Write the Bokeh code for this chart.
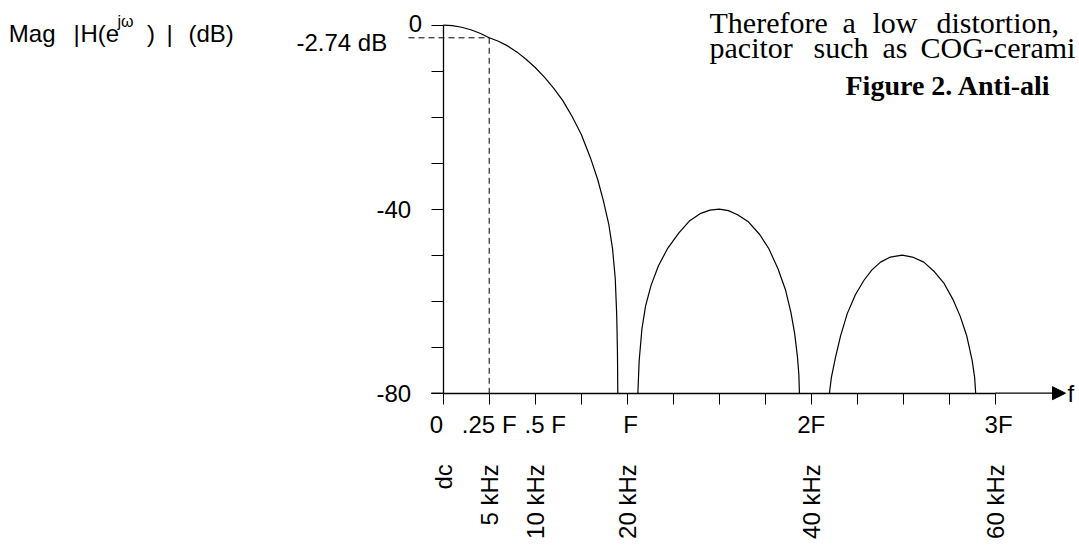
import math
from bokeh.plotting import figure
from bokeh.models import Label, Arrow, NormalHead, FixedTicker, LinearAxis
from bokeh.embed import file_html
from bokeh.resources import INLINE

# ---------------- data ----------------
lobe1_f = [0, 0.05, 0.10, 0.15, 0.20, 0.25, 0.30, 0.35, 0.40, 0.45, 0.50, 0.55,
           0.60, 0.65, 0.70, 0.75, 0.80, 0.84, 0.87, 0.90, 0.92, 0.935, 0.943, 0.947, 0.949]
lobe1_db = [0, -0.11, -0.44, -0.99, -1.75, -2.74, -3.5, -4.5, -5.8, -7.4, -9.2, -11.3,
            -13.7, -16.4, -19.8, -23.7, -28.8, -33.6, -38.1, -43.3, -48.5, -55.0, -63.0, -71.0, -80.0]

lobe2_f = [1.058, 1.065, 1.08, 1.10, 1.13, 1.17, 1.22, 1.28, 1.34, 1.40, 1.45, 1.50,
           1.55, 1.60, 1.66, 1.72, 1.77, 1.82, 1.86, 1.89, 1.91, 1.925, 1.933, 1.936]
lobe2_db = [-80, -73, -66, -61, -56.5, -52.3, -48.5, -45.2, -42.5, -40.9, -40.2, -40.0,
            -40.3, -41.2, -42.8, -45.5, -48.6, -53.0, -57.5, -62.5, -67.0, -72.0, -76.0, -80]

lobe3_f = [2.099, 2.11, 2.132, 2.16, 2.196, 2.24, 2.286, 2.33, 2.377, 2.43, 2.495,
           2.55, 2.612, 2.67, 2.72, 2.77, 2.81, 2.845, 2.875, 2.888, 2.894]
lobe3_db = [-80, -76.5, -72.2, -67.5, -62.7, -58.6, -55.5, -53.2, -51.5, -50.4, -50.0,
            -50.4, -51.5, -53.6, -56.0, -59.6, -63.3, -67.5, -72.9, -76.5, -80]

x_ticks = [0, 0.25, 0.5, 0.75, 1.0, 1.25, 1.5, 1.75, 2.0, 2.25, 2.5, 2.75, 3.0]
x_tick_labels = {0: "0\u00a0\u00a0", 0.25: ".25 F", 0.5: "\u00a0\u00a0\u00a0.5 F",
                 1: "\u00a0F", 2: "2F", 3: "\u00a03F"}
y_ticks = [0, -10, -20, -30, -40, -50, -60, -70, -80]
y_tick_labels = {-40: "-40", -80: "-80"}
freq_pos = [0, 0.25, 0.5, 1, 2, 3]
freq_labels = ["dc", "5 kHz", "10 kHz", "20 kHz", "40 kHz", "60 kHz"]
marker_f = 0.25
marker_db = -2.74
marker_text = "-2.74 dB"
db_floor = -80
f_axis_end = 3.0

# ---------------- layout (pixel geometry of the picture) ----------------
W, H = 1079, 548
X0, PX_F = 442.7, 184.0      # pixel of f = 0, pixels per F
Y0, PX_DB = 24.7, 4.6        # pixel of 0 dB, pixels per dB


def fx(px):
    return (px - X0) / PX_F


def fy(py):
    return -(py - Y0) / PX_DB


SANS = "Liberation Sans"
SERIF = "Liberation Serif"

p = figure(width=W, height=H, x_range=(fx(0), fx(W)), y_range=(fy(H), fy(0)),
           output_backend="svg", toolbar_location=None,
           min_border_left=0, min_border_right=0, min_border_top=0, min_border_bottom=0)
p.grid.visible = False
p.outline_line_color = None
p.background_fill_color = "white"
p.border_fill_color = "white"

xa = p.xaxis[0]
xa.fixed_location = db_floor
xa.bounds = (0, f_axis_end)
xa.ticker = FixedTicker(ticks=x_ticks)
xa.major_label_overrides = {t: x_tick_labels.get(t, "") for t in x_ticks}
xa.major_tick_out = 11
xa.major_tick_in = 0
xa.minor_tick_line_color = None
xa.axis_line_width = 1.3
xa.axis_line_color = "black"
xa.major_tick_line_color = "black"
xa.major_label_standoff = 7
xa.major_label_text_font = SANS
xa.major_label_text_font_size = "24px"
xa.major_label_text_color = "black"

ka = LinearAxis(fixed_location=db_floor, ticker=FixedTicker(ticks=freq_pos),
                major_label_overrides={t: s for t, s in zip(freq_pos, freq_labels)},
                major_label_orientation=math.pi / 2, major_label_standoff=71,
                major_tick_out=0, major_tick_in=0, minor_tick_out=0, minor_tick_in=0,
                axis_line_color=None, major_tick_line_color=None, minor_tick_line_color=None,
                major_label_text_font=SANS, major_label_text_font_size="24px",
                major_label_text_color="black")
p.add_layout(ka, "below")

ya = p.yaxis[0]
ya.fixed_location = 0
ya.bounds = (db_floor, 0)
ya.ticker = FixedTicker(ticks=y_ticks)
ya.major_label_overrides = {t: y_tick_labels.get(t, "") for t in y_ticks}
ya.major_tick_out = 12
ya.major_tick_in = 0
ya.minor_tick_line_color = None
ya.axis_line_width = 1.3
ya.axis_line_color = "black"
ya.major_tick_line_color = "black"
ya.major_label_standoff = 20
ya.major_label_text_font = SANS
ya.major_label_text_font_size = "24px"
ya.major_label_text_color = "black"

# response curve
for fs, dbs in ((lobe1_f, lobe1_db), (lobe2_f, lobe2_db), (lobe3_f, lobe3_db)):
    p.line(fs, dbs, line_color="black", line_width=1.2)

# dashed marker lines
p.segment(x0=[fx(408), marker_f], y0=[marker_db, marker_db], x1=[marker_f, marker_f],
          y1=[marker_db, db_floor], line_color="black", line_width=1, line_dash="6 4")

# x axis: short extension left of the origin and arrow to the right
p.segment(x0=[fx(430.7)], y0=[db_floor], x1=[0], y1=[db_floor], line_color="black", line_width=1.3)
p.add_layout(Arrow(x_start=f_axis_end, y_start=db_floor, x_end=fx(1065), y_end=db_floor, start=None,
                   end=NormalHead(size=13, fill_color="black", line_color="black"),
                   line_color="black", line_width=1.3))
p.add_layout(Label(x=fx(1067), y=db_floor, text="f", text_font=SANS, text_font_size="24px",
                   text_align="left", text_baseline="middle", text_color="black"))

# y labels that sit off the regular places
p.add_layout(Label(x=fx(421.7), y=fy(23.3), text="0", text_font=SANS, text_font_size="24px",
                   text_align="right", text_baseline="middle", text_color="black"))
p.add_layout(Label(x=fx(386.7), y=fy(41.7), text=marker_text, text_font=SANS, text_font_size="24px",
                   text_align="right", text_baseline="middle", text_color="black"))

# title: Mag |H(e^jw)| (dB)
title_parts = [("Mag", 8.3, 24, 32.5), ("|", 73, 24, 32.5), ("H(e", 80, 24, 32.5),
               ("j\u03c9", 117, 16, 21), (")", 146.5, 24, 32.5), ("|", 166, 24, 32.5),
               ("(dB)", 188, 24, 32.5)]
for txt, px, sz, py in title_parts:
    p.add_layout(Label(x=fx(px), y=fy(py), text=txt, text_font=SANS, text_font_size=f"{sz}px",
                       text_align="left", text_baseline="alphabetic", text_color="black"))

# paragraph fragment at the top right
line1 = [("Therefore", 709), ("a", 842), ("low", 872), ("distortion,", 936)]
line2 = [("pacitor", 709), ("such", 813), ("as", 882), ("COG-cerami", 920)]
for words, base in ((line1, 22), (line2, 47)):
    for w, px in words:
        p.add_layout(Label(x=fx(px), y=fy(base), text=w, text_font=SERIF, text_font_size="30px",
                           text_align="left", text_baseline="alphabetic", text_color="black"))
p.add_layout(Label(x=fx(845), y=fy(85), text="Figure 2. Anti-ali", text_font=SERIF,
                   text_font_size="28px", text_font_style="bold", text_align="left",
                   text_baseline="alphabetic", text_color="black"))

open("out.html", "w").write(file_html(p, INLINE))
